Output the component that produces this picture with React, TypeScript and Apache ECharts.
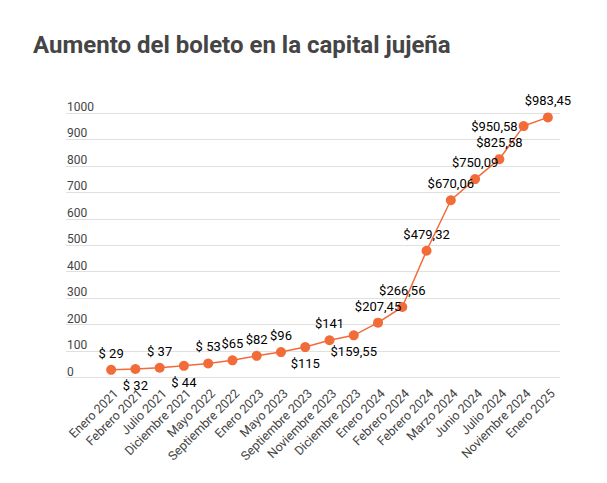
import React, { useEffect, useRef } from "react";
import * as echarts from "echarts";

const categories = [
  "Enero 2021", "Febrero 2021", "Julio 2021", "Diciembre 2021", "Mayo 2022",
  "Septiembre 2022", "Enero 2023", "Mayo 2023", "Septiembre 2023", "Noviembre 2023",
  "Diciembre 2023", "Enero 2024", "Febrero 2024", "Febrero 2024", "Marzo 2024",
  "Junio 2024", "Julio 2024", "Noviembre 2024", "Enero 2025",
];

const fares = [
  29, 32, 37, 44, 53, 65, 82, 96, 115, 141,
  159.55, 207.45, 266.56, 479.32, 670.06, 750.09, 825.58, 950.58, 983.45,
];

const fareLabels = [
  "$ 29", "$ 32", "$ 37", "$ 44", "$ 53", "$65", "$82", "$96", "$115", "$141",
  "$159,55", "$207,45", "$266,56", "$479,32", "$670,06", "$750,09", "$825,58", "$950,58", "$983,45",
];

const labelPlacement = [
  "top", "bottom", "top", "bottom", "top", "top", "top", "top", "bottom", "top",
  "bottom", "top", "top", "top", "top", "top", "top", "left", "top",
];

const yTicks = { min: 0, max: 1000, interval: 100 };

const ORANGE = "#f26c3a";
const FONT = "Roboto, sans-serif";

export default function App() {
  const ref = useRef<HTMLDivElement>(null);

  useEffect(() => {
    if (!ref.current) return;
    const chart = echarts.init(ref.current, null, { renderer: "svg" });

    const data = fares.map((v, i) => ({
      value: v,
      label: {
        position: labelPlacement[i],
        distance: labelPlacement[i] === "left" ? 1 : 5,
        formatter: fareLabels[i],
      },
    }));

    chart.setOption({
      animation: false,
      backgroundColor: "#ffffff",
      title: {
        text: "Aumento del boleto en la capital jujeña",
        left: 33,
        top: 33,
        padding: 0,
        textStyle: { fontFamily: FONT, fontSize: 24, fontWeight: "bold", color: "#454545" },
      },
      grid: [
        { left: 66, right: 47, top: 113, bottom: 105.5 },
        { left: 99, right: 47, top: 113, bottom: 105.5 },
      ],
      xAxis: [
        { type: "value", gridIndex: 0, show: false, min: 0, max: 1 },
        {
          type: "category",
          gridIndex: 1,
          data: categories,
          boundaryGap: true,
          axisLine: { show: false },
          axisTick: { show: false },
          axisLabel: {
            interval: 0,
            rotate: 45,
            margin: 9,
            verticalAlign: "top",
            fontFamily: FONT,
            fontSize: 12.5,
            color: "#444444",
          },
        },
      ],
      yAxis: [
        {
          type: "value",
          gridIndex: 0,
          min: yTicks.min,
          max: yTicks.max,
          interval: yTicks.interval,
          axisLine: { show: false },
          axisTick: { show: false },
          splitLine: { lineStyle: { color: "#e0e0e0", width: 1 } },
          axisLabel: {
            inside: true,
            margin: 1,
            verticalAlign: "bottom",
            padding: [0, 0, 0, 0],
            formatter: (v: number) => String(v),
            fontFamily: FONT,
            fontSize: 12,
            color: "#444444",
          },
        },
        {
          type: "value",
          gridIndex: 1,
          min: yTicks.min,
          max: yTicks.max,
          interval: yTicks.interval,
          show: false,
          splitLine: { show: false },
        },
      ],
      series: [
        {
          type: "line",
          xAxisIndex: 1,
          yAxisIndex: 1,
          data,
          symbol: "circle",
          symbolSize: 10,
          itemStyle: { color: ORANGE },
          lineStyle: { color: ORANGE, width: 1.5 },
          label: {
            show: true,
            fontFamily: FONT,
            fontSize: 13,
            color: "#000000",
          },
        },
      ],
    });

    return () => chart.dispose();
  }, []);

  return (
    <div
      ref={ref}
      style={{ position: "fixed", left: 0, top: 0, width: 607, height: 483, background: "#fff" }}
    />
  );
}
